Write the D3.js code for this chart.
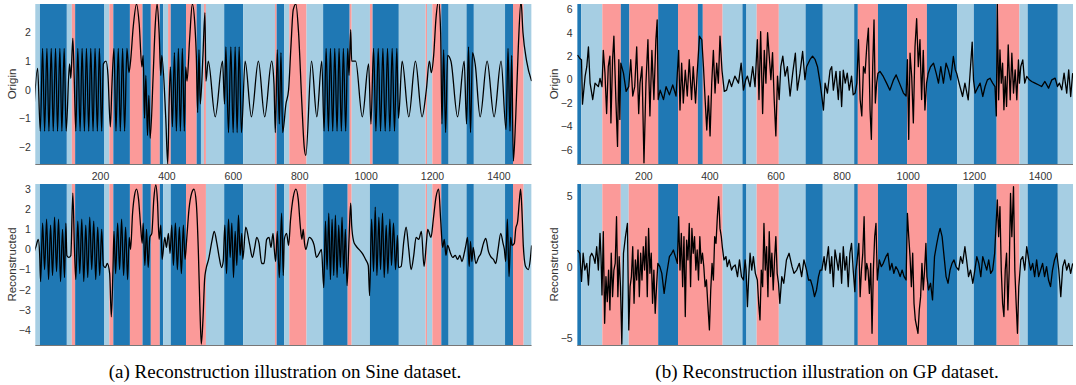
<!DOCTYPE html>
<html>
<head>
<meta charset="utf-8">
<script src="https://cdn.jsdelivr.net/npm/d3@7"></script>
<style>
  body { margin: 0; background: #fff; }
  svg { display: block; }
  .tick text { font-family: "Liberation Sans", Arial, sans-serif; font-size: 10.5px; fill: #333; }
</style>
</head>
<body>
<svg id="chart" width="1076" height="385"></svg>
<script>
// segment class colours (D = dark blue, L = light blue, P = pink)
const segColors = { D: "#1f78b4", L: "#a6cee3", P: "#fb9a99" };
const xTicks = [200, 400, 600, 800, 1000, 1200, 1400];

// ---- Sine dataset ----
const sineOriginSegs = [
  [0,19,"L"],[19,100,"D"],[100,115,"L"],[115,125,"P"],[125,212,"D"],[212,228,"L"],[228,240,"P"],
  [240,290,"D"],[290,328,"P"],[328,353,"D"],[353,380,"P"],[380,390,"D"],[390,405,"L"],[405,413,"P"],
  [413,459,"D"],[459,491,"P"],[491,504,"D"],[504,513,"L"],[513,519,"P"],[519,574,"L"],[574,631,"D"],
  [631,727,"L"],[727,732,"P"],[732,755,"D"],[755,770,"L"],[770,822,"P"],[822,872,"L"],[872,952,"D"],
  [952,958,"P"],[958,1013,"L"],[1013,1021,"P"],[1021,1100,"D"],[1100,1181,"L"],[1181,1185,"P"],
  [1185,1201,"L"],[1201,1228,"P"],[1228,1250,"D"],[1250,1304,"L"],[1304,1326,"D"],[1326,1420,"L"],
  [1420,1444,"D"],[1444,1476,"P"],[1476,1500,"L"]
];
const sineReconSegs = [
  [0,19,"L"],[19,100,"D"],[100,115,"L"],[115,125,"P"],[125,212,"D"],[212,228,"L"],[228,240,"P"],
  [240,290,"D"],[290,328,"P"],[328,353,"D"],[353,380,"P"],[380,390,"D"],[390,413,"L"],
  [413,459,"D"],[459,519,"P"],[519,574,"L"],[574,631,"D"],
  [631,727,"L"],[727,732,"P"],[732,755,"D"],[755,770,"L"],[770,822,"P"],[822,872,"L"],[872,946,"D"],
  [946,958,"P"],[958,1013,"L"],[1013,1100,"D"],[1100,1181,"L"],[1181,1185,"P"],
  [1185,1201,"L"],[1201,1228,"P"],[1228,1250,"D"],[1250,1304,"L"],[1304,1326,"D"],[1326,1420,"L"],
  [1420,1444,"D"],[1444,1476,"P"],[1476,1500,"L"]
];
const sineOrigin = [
  [0,-0.9],[12,0.75],
  [20,-1.45],[27,1.45],[33,-1.45],[40,1.45],[46,-1.45],[53,1.45],[59,-1.45],[66,1.45],[72,-1.45],[79,1.45],[85,-1.45],[92,1.45],[98,-1.45],
  [108,0.9],[112,0.4],[118,1.8],[122,0.5],
  [127,-1.45],[133,1.45],[140,-1.45],[146,1.45],[153,-1.45],[159,1.45],[166,-1.45],[172,1.45],[179,-1.45],[185,1.45],[192,-1.45],[198,1.45],[205,-1.45],[210,0.9],
  [218,1.0],[224,0.5],[231,-1.3],[236,0.2],
  [242,1.45],[248,-1.45],[255,1.45],[261,-1.45],[268,1.45],[274,-1.45],[281,1.45],[287,0.6],
  [292,1.0],[300,2.2],[310,3.0],[318,2.3],[326,0.8],
  [330,1.2],[334,-1.0],[338,0.5],[343,-1.6],[347,-0.2],[351,-1.7],
  [360,0.5],[366,2.2],[372,3.0],[378,2.0],[383,0.5],[386,1.2],
  [398,-1.0],[404,-2.6],[408,-0.5],
  [412,0.8],[418,-1.3],[424,1.3],[430,-1.45],[436,1.45],[442,-1.45],[448,1.45],[454,-1.45],[458,0.8],
  [462,0.3],[470,1.8],[478,3.0],[486,2.2],[490,1.2],
  [494,-0.8],[498,1.4],[502,-0.5],[510,1.2],[516,2.7],[519,0.3],
  [526,1.0],[547,-0.95],[569,1.0],
  [575,-0.5],[579,1.5],[587,-1.5],[594,1.5],[601,-1.5],[607,1.5],[613,-1.5],[619,1.5],[626,-1.5],
  [637,1.0],[656,-0.95],[677,1.0],[696,-0.95],[717,1.0],
  [724,0.2],[728,-1.5],[734,1.4],[740,-1.2],[745,1.3],[750,-1.5],
  [760,-0.5],[768,0.0],
  [775,1.5],[782,2.8],[790,3.0],[798,2.0],[808,-0.5],[815,-2.0],[820,-2.3],
  [837,1.0],[853,-0.95],[868,1.0],
  [875,-1.45],[881,1.45],[888,-1.45],[894,1.45],[901,-1.45],[907,1.45],[914,-1.45],[920,1.45],[927,-1.45],[933,1.45],[940,-1.45],[946,1.45],
  [950,0.5],[955,2.1],[958,1.0],
  [970,1.0],[990,-0.95],[1009,0.9],
  [1016,-1.2],[1024,1.45],[1031,-1.45],[1038,1.45],[1045,-1.45],[1052,1.45],[1059,-1.45],[1066,1.45],[1073,-1.45],[1080,1.45],[1087,-1.45],[1094,1.45],[1099,-1.0],
  [1110,1.0],[1130,-0.95],[1150,1.0],[1170,-0.95],
  [1183,0.0],[1192,1.0],[1198,0.6],
  [1205,1.2],[1212,2.5],[1220,3.1],[1226,2.0],
  [1230,-1.2],[1235,1.4],[1241,-1.5],[1247,1.2],
  [1257,1.0],[1277,-0.95],[1297,1.0],
  [1304,-1.2],[1310,1.5],[1316,-1.5],[1322,1.3],
  [1330,0.9],[1345,-0.95],[1366,1.0],[1387,-0.95],[1408,1.0],
  [1423,-1.4],[1429,1.45],[1435,-1.45],[1440,1.2],
  [1445,-2.5],[1452,-1.0],[1460,1.5],[1468,3.1],[1474,2.0],
  [1485,1.0],[1500,0.3]
];
const sineRecon = [
  [0,-0.2],[8,0.2],[14,0.5],[18,-0.2],
  [21,-1.6],[27,1.3],[33,-1.0],[39,1.5],[45,-1.5],[51,1.2],[57,-1.3],[63,1.6],[69,-1.1],[75,1.5],[81,-1.6],[87,1.0],[93,-1.4],[97,1.3],[100,-0.3],
  [106,-0.4],[112,-0.3],[118,2.8],[123,0.0],
  [127,-1.5],[133,1.4],[139,-1.2],[145,1.5],[151,-1.6],[157,1.2],[163,-1.4],[169,1.6],[175,-1.0],[181,1.4],[187,-1.5],[193,1.1],[199,-1.3],[205,1.0],[210,-0.8],
  [216,-0.9],[222,-0.7],[229,-1.2],[234,-3.35],[239,-1.0],
  [242,0.9],[247,-1.2],[253,1.3],[259,-1.0],[265,1.5],[271,-1.3],[277,1.1],[283,-1.5],[288,0.6],
  [292,0.0],[298,1.8],[304,2.7],[310,3.0],[316,2.5],[322,1.2],[327,0.3],
  [330,1.3],[335,-0.8],[340,1.0],[345,-0.9],[350,0.6],
  [356,0.8],[362,2.5],[368,3.2],[373,2.4],[378,0.5],
  [383,1.2],[387,-0.5],[395,0.6],[400,0.1],[406,0.8],[411,-0.2],
  [416,1.2],[421,-0.8],[427,1.3],[433,-1.0],[439,1.1],[445,-1.2],[451,1.2],[456,-0.5],
  [461,0.5],[468,2.0],[476,2.8],[483,3.0],[490,2.3],[496,0.0],[501,-3.0],[505,-4.7],[510,-3.5],[515,-1.5],[519,-1.0],
  [527,-0.5],[538,0.5],[544,0.9],[552,0.3],[559,-0.4],[566,-0.9],[571,-0.6],
  [576,1.2],[581,-1.2],[587,1.5],[592,-0.4],[597,1.3],[602,-1.4],[607,0.9],[612,-0.8],[617,1.7],[622,-0.3],[627,0.8],[630,-0.5],
  [639,1.1],[650,0.3],[659,-0.4],[666,0.1],[672,0.6],[679,0.3],[687,-0.7],[694,-0.7],[702,0.5],[709,0.6],[715,0.1],[721,0.8],[725,0.0],
  [729,-0.6],[734,0.9],[740,-1.4],[747,1.8],[752,-1.3],[755,0.5],
  [762,0.8],[768,0.2],
  [774,1.5],[782,2.6],[790,3.0],[797,2.5],[803,1.2],[808,0.5],[812,1.0],[816,0.3],[820,0.0],
  [830,0.6],[838,0.5],[845,0.2],[852,-0.4],[860,-0.2],[867,0.0],
  [874,-1.9],[879,1.4],[884,-1.0],[889,1.8],[894,-1.5],[899,1.5],[904,-1.3],[909,1.7],[914,-1.4],[919,1.2],[924,-0.9],[929,1.6],[934,-1.2],[939,1.0],[944,-1.8],
  [950,0.5],[955,2.3],[958,1.2],
  [964,0.4],[970,0.2],[980,0.0],[990,-0.2],[1000,-0.5],[1008,-0.8],[1012,-2.3],
  [1018,1.5],[1024,-1.1],[1029,2.1],[1034,-1.3],[1040,1.6],[1045,-1.0],[1051,1.8],[1056,-1.4],[1062,1.2],[1067,-1.2],[1073,1.5],[1078,-0.8],[1084,1.3],[1090,-1.0],[1096,0.7],[1099,-0.9],
  [1107,-0.85],[1115,0.4],[1122,1.1],[1130,0.0],[1137,-1.0],[1145,-0.3],[1152,0.6],[1160,0.5],[1168,0.9],[1176,-0.85],
  [1183,0.3],[1187,1.0],[1197,0.6],
  [1204,1.5],[1212,2.6],[1220,3.0],[1226,1.5],
  [1232,0.1],[1237,0.5],[1242,-0.3],[1247,0.2],
  [1256,-0.2],[1262,-0.4],[1270,-0.3],[1277,-0.5],[1284,-0.3],[1290,-0.6],[1297,-0.2],[1302,0.2],
  [1307,0.6],[1312,-0.85],[1316,0.4],[1320,-0.6],[1324,0.1],
  [1332,-0.7],[1340,-0.4],[1347,-0.2],[1355,0.3],[1362,0.55],[1370,-0.1],[1377,-0.36],[1385,-0.5],[1392,-0.7],[1399,0.0],[1407,0.8],[1414,0.3],[1418,0.0],
  [1422,-0.6],[1427,1.5],[1432,-1.35],[1437,0.6],[1441,0.2],
  [1448,0.3],[1452,1.0],[1458,1.4],[1463,2.4],[1467,3.0],[1472,1.5],[1475,0.2],
  [1482,-0.85],[1490,-1.0],[1496,-0.5],[1500,0.2]
];

// ---- GP dataset ----
const gpOriginSegs = [
  [0,12,"D"],[12,76,"L"],[76,132,"P"],[132,158,"D"],[158,245,"P"],[245,305,"D"],[305,365,"P"],
  [365,380,"D"],[380,440,"P"],[440,500,"L"],[500,512,"D"],[512,543,"L"],[543,610,"P"],[610,691,"L"],
  [691,743,"D"],[743,838,"L"],[838,849,"D"],[849,910,"P"],[910,998,"D"],[998,1058,"P"],[1058,1150,"D"],
  [1150,1200,"L"],[1200,1269,"D"],[1269,1338,"P"],[1338,1363,"L"],[1363,1454,"D"],[1454,1500,"L"]
];
const gpReconSegs = [
  [0,12,"D"],[12,76,"L"],[76,132,"P"],[132,156,"L"],[156,245,"P"],[245,305,"D"],[305,440,"P"],
  [440,500,"L"],[500,512,"D"],[512,543,"L"],[543,610,"P"],[610,691,"L"],
  [691,743,"D"],[743,838,"L"],[838,849,"D"],[849,910,"P"],[910,998,"D"],[998,1058,"P"],[1058,1150,"D"],
  [1150,1200,"L"],[1200,1269,"D"],[1269,1338,"P"],[1338,1363,"L"],[1363,1454,"D"],[1454,1500,"L"]
];
const gpOrigin = [
  [1,2.1],[8,1.8],[13,1.7],[16,-2.1],[24,0.3],[29,1.1],[34,2.8],[39,-0.3],[47,-1.7],[54,-0.3],[64,-0.6],[69,0.1],[75,-0.6],
  [79,2.5],[84,0.55],[89,-2.9],[94,1.1],[99,2.0],[102,-3.7],[107,1.7],[111,3.7],[117,-1.7],[122,-5.7],[126,1.7],[129,-3.4],[132,1.4],
  [140,0.55],[148,-1.0],[156,-0.6],
  [162,1.7],[168,-1.4],[174,-0.6],[180,2.8],[186,-2.9],[190,-0.3],[196,1.1],[202,-7.1],[208,-0.3],[214,3.4],[220,-3.1],[226,2.5],[232,-1.7],[238,3.4],[242,5.1],[245,-1.7],
  [251,-0.9],[261,-1.7],[269,-0.6],[279,-1.3],[289,-0.45],[299,-1.4],
  [307,2.5],[311,-2.6],[316,1.4],[321,-2.0],[327,0.8],[333,-1.4],[339,1.7],[346,-1.7],[351,1.1],[358,-2.0],[363,0.55],
  [370,3.7],[377,3.4],
  [382,1.1],[387,-1.7],[392,-4.3],[397,-1.4],[402,-4.8],[407,-0.3],[412,2.5],[417,-1.15],[422,1.4],[427,-0.3],[432,3.7],[438,0.8],
  [445,-1.0],[452,-0.9],[460,0.0],[467,-0.6],[477,0.3],[488,-0.3],[496,1.4],
  [503,-0.9],[510,0.0],
  [515,0.3],[523,-0.6],[531,1.1],[538,-0.6],
  [545,3.4],[550,-1.7],[555,4.1],[561,-2.9],[566,2.5],[571,-0.3],[576,4.0],[581,2.0],[586,0.0],[591,2.3],[596,-1.7],[601,-4.8],[606,0.3],[611,-1.7],
  [616,1.1],[622,2.0],[629,0.3],[636,1.1],[644,-1.4],[652,0.55],[660,2.25],[666,-0.9],[674,0.55],[682,2.4],[689,0.0],
  [694,1.1],[704,1.7],[712,2.0],[720,1.7],[727,1.1],[735,-0.3],[740,-1.4],
  [745,-2.6],[750,-0.3],[757,-1.15],[765,0.8],[770,1.1],[775,-0.9],[783,0.7],[790,-1.7],[795,0.7],[800,-2.3],[805,0.8],[811,-0.3],[817,0.55],[823,-0.9],[830,0.3],[835,-1.3],
  [841,-1.15],[846,-0.3],
  [851,3.4],[856,-1.7],[861,-3.1],[866,1.1],[871,0.55],[876,2.8],[881,4.4],[886,-2.6],[890,-5.1],[894,1.1],[898,5.1],[902,-2.0],[906,-0.3],[910,0.55],
  [916,0.7],[926,0.27],[936,-0.3],[946,-0.9],[957,-0.02],[965,0.4],[975,-0.3],[987,-1.15],[995,-1.4],
  [999,1.7],[1003,-5.1],[1007,2.25],[1012,0.27],[1017,-3.7],[1022,2.8],[1027,5.2],[1032,1.1],[1037,3.4],[1042,-1.7],[1047,2.5],[1052,-2.6],[1057,-0.3],
  [1062,0.55],[1069,1.1],[1078,1.4],[1086,0.55],[1093,-0.3],[1100,1.1],[1108,-0.3],[1116,1.4],[1123,0.83],[1130,-0.02],[1138,1.97],[1144,0.83],[1148,0.55],
  [1153,-0.02],[1158,-0.59],[1166,-1.44],[1173,-0.3],[1183,-1.72],[1188,0.27],[1195,3.2],[1199,-0.02],
  [1204,-1.15],[1211,-0.73],[1219,-0.3],[1227,-1.44],[1234,-0.59],[1241,-0.02],[1249,0.12],[1257,-0.3],[1264,-0.59],[1268,-3.1],
  [1271,6.5],[1275,-1.72],[1279,2.53],[1283,-0.3],[1287,1.4],[1291,-2.57],[1295,0.27],[1299,-2.29],[1304,2.96],[1310,-1.72],[1315,2.25],[1320,-1.15],[1325,0.83],[1330,-1.72],[1335,1.68],[1338,-0.3],
  [1342,1.12],[1348,1.68],[1354,-0.3],[1360,0.27],
  [1368,-0.02],[1375,-0.16],[1385,-0.3],[1395,-0.44],[1405,-0.59],[1415,-0.16],[1426,-0.73],[1436,-0.02],[1446,0.12],[1453,-0.59],
  [1459,-0.3],[1466,-0.87],[1473,0.55],[1481,-1.15],[1487,0.83],[1493,-1.44],[1499,0.55]
];
const gpRecon = [
  [1,1.2],[8,0.98],
  [13,-1.0],[18,0.98],[23,-0.2],[29,0.27],[34,-1.25],[39,0.74],[44,0.98],[49,0.74],[54,0.27],[59,1.44],[64,-0.2],[69,2.38],[72,0.74],[75,-1.95],
  [79,2.5],[83,-3.94],[87,-0.66],[91,-2.42],[95,-0.2],[99,-3.0],[103,0.98],[107,-2.07],[111,-0.2],[115,0.27],[119,3.55],[123,-2.07],[127,0.74],[131,-1.37],
  [135,-5.4],[140,0.98],[146,2.15],[152,3.08],
  [156,-4.41],[160,-1.37],[164,-0.66],[168,1.44],[172,-2.54],[176,0.51],[180,-0.9],[184,1.21],[188,-2.07],[192,0.98],[196,-0.9],[200,1.44],[204,-0.2],[208,2.15],[212,-2.07],[216,2.73],[220,-0.43],[224,0.98],[228,-2.54],[232,-0.2],[236,-3.24],[240,-1.37],[244,0.27],
  [250,0.04],[256,-0.43],[263,-1.84],[271,-0.43],[279,0.74],[286,0.98],[291,1.21],[297,0.74],[303,0.27],
  [307,3.55],[311,-0.2],[315,2.38],[319,-1.37],[323,2.15],[327,-3.47],[331,1.91],[335,0.51],[339,3.08],[343,-1.37],[347,2.73],[351,0.98],[355,2.15],[359,-0.2],[363,1.21],[367,-0.9],[371,2.15],[375,0.27],[379,0.98],[383,0.04],[387,-1.37],[391,-0.9],[395,-2.54],[400,-4.41],[404,-1.6],[408,0.27],[412,-0.9],[416,2.15],[420,1.68],[424,3.55],[428,4.96],[432,2.73],[436,2.15],[439,1.44],
  [444,0.51],[450,0.74],[454,0.04],[460,0.51],[467,-0.2],[472,0.04],[478,0.16],[485,-0.66],[491,0.51],[497,-0.66],
  [503,-0.9],[508,0.51],[511,-0.2],
  [515,-2.77],[519,-0.66],[523,0.98],[528,-0.2],[533,0.74],[539,-0.43],
  [545,-0.9],[549,-2.54],[553,-3.71],[557,-0.2],[561,-1.37],[565,3.08],[569,-0.2],[573,1.44],[577,-2.07],[581,2.5],[585,-0.66],[589,0.98],[593,-1.6],[597,0.51],[601,2.15],[605,-0.43],[609,-1.13],
  [613,-2.54],[619,-0.66],[625,-1.13],[633,0.51],[641,0.98],[650,0.04],[656,-0.43],[664,-0.2],[672,0.27],[679,-0.66],[686,0.51],
  [694,-0.2],[700,-0.9],[706,-0.9],[712,-1.37],[718,-2.07],[724,-1.6],[730,-0.66],[735,-0.2],[740,-0.2],
  [747,0.74],[751,-0.2],[755,0.51],[760,1.44],[765,-0.43],[770,0.74],[775,-1.37],[780,1.21],[790,-0.2],[795,0.98],[800,-1.13],[805,1.44],[810,-0.2],[815,0.74],[820,-1.37],[825,0.98],[830,1.68],[835,-0.2],[840,-1.72],
  [843,-0.2],[846,0.27],
  [852,1.68],[856,-2.07],[860,-0.2],[864,0.98],[868,3.55],[872,-0.9],[876,0.27],[880,-0.2],[884,-1.84],[888,0.27],[892,-4.65],[896,-0.2],[900,2.15],[904,3.08],[908,-0.9],
  [914,0.51],[920,0.04],[926,0.27],[934,0.74],[940,0.98],[946,-0.2],[952,0.27],[958,-0.43],[964,0.04],[970,-0.2],[977,-0.66],[983,-0.2],[989,-0.66],[995,-0.9],
  [999,3.79],[1003,2.15],[1007,0.74],[1011,-1.37],[1015,0.98],[1019,-2.54],[1023,-3.71],[1027,-4.18],[1031,-4.65],[1035,-2.99],[1039,-2.07],[1043,0.27],[1047,-1.6],[1051,-0.2],[1055,1.68],[1058,-0.66],
  [1063,-1.6],[1069,-1.13],[1075,-2.3],[1081,0.74],[1088,1.68],[1094,2.38],[1098,2.73],[1104,2.15],[1110,0.74],[1116,-0.66],[1122,-1.13],[1128,-0.2],[1134,0.27],[1140,0.51],[1146,0.04],
  [1154,-0.2],[1160,0.74],[1166,0.27],[1173,1.44],[1178,0.51],[1184,-0.66],[1190,-0.2],[1197,-1.13],
  [1203,-0.2],[1209,0.74],[1215,0.27],[1221,-0.66],[1227,0.74],[1233,0.27],[1239,-0.2],[1245,0.51],[1251,-0.43],[1257,-0.2],[1263,0.98],
  [1271,4.73],[1275,2.15],[1279,4.26],[1283,-0.2],[1287,-2.54],[1291,-3.47],[1295,-0.2],[1299,0.98],[1303,-3.0],[1307,-0.2],[1311,5.19],[1315,2.15],[1320,5.66],[1324,-0.2],[1328,-2.54],[1332,-4.65],[1336,-1.37],
  [1342,0.51],[1348,0.74],[1354,-0.2],[1360,1.44],
  [1366,0.51],[1372,-0.2],[1378,0.27],[1384,-0.66],[1390,0.51],[1396,-0.66],[1402,-0.2],[1408,0.27],[1414,-0.66],[1420,0.04],[1426,-0.9],[1432,-1.37],[1438,-0.2],[1444,0.51],[1451,0.98],
  [1457,-0.2],[1463,-2.07],[1469,0.04],[1475,0.51],[1481,-0.2],[1487,0.27],[1493,-0.43],[1499,0.27]
];

const panels = [
  { segs: sineOriginSegs, series: sineOrigin, title: "Origin", yDomain: [-2.6, 3], yTicks: [-2,-1,0,1,2],
    xDomain: [5, 1500], left: 35.3, right: 531.6, top: 4, bottom: 164, smooth: true, xLabels: true },
  { segs: sineReconSegs, series: sineRecon, title: "Reconstructed", yDomain: [-4.75, 3.25], yTicks: [-4,-3,-2,-1,0,1,2,3],
    xDomain: [5, 1500], left: 35.3, right: 531.6, top: 184, bottom: 345, smooth: true, xLabels: false },
  { segs: gpOriginSegs, series: gpOrigin, title: "Origin", yDomain: [-7.2, 6.45], yTicks: [-6,-4,-2,0,2,4,6],
    xDomain: [0, 1500], left: 577.2, right: 1073, top: 4, bottom: 164, smooth: false, xLabels: true },
  { segs: gpReconSegs, series: gpRecon, title: "Reconstructed", yDomain: [-5.47, 5.85], yTicks: [-5,0,5],
    xDomain: [0, 1500], left: 577.2, right: 1073, top: 184, bottom: 345, smooth: false, xLabels: false }
];

const svg = d3.select("#chart");

panels.forEach((p, i) => {
  const x = d3.scaleLinear().domain(p.xDomain).range([p.left, p.right]);
  const y = d3.scaleLinear().domain(p.yDomain).range([p.bottom, p.top]);

  svg.append("clipPath").attr("id", "clip" + i)
    .append("rect")
    .attr("x", p.left).attr("y", p.top)
    .attr("width", p.right - p.left).attr("height", p.bottom - p.top);

  const g = svg.append("g").attr("clip-path", "url(#clip" + i + ")");

  // background segments
  g.selectAll("rect.seg")
    .data(p.segs)
    .enter()
    .append("rect")
    .attr("class", "seg")
    .attr("x", d => x(d[0]))
    .attr("y", p.top)
    .attr("width", d => x(d[1]) - x(d[0]))
    .attr("height", p.bottom - p.top)
    .attr("fill", d => segColors[d[2]]);

  // series
  const line = d3.line()
    .x(d => x(d[0]))
    .y(d => y(d[1]))
    .curve(p.smooth ? d3.curveMonotoneX : d3.curveLinear);
  g.append("path")
    .datum(p.series)
    .attr("d", line)
    .attr("fill", "none")
    .attr("stroke", "#000")
    .attr("stroke-width", 1.3)
    .attr("stroke-linejoin", "round");

  // y axis
  const ya = svg.append("g")
    .attr("transform", "translate(" + p.left + ",0)")
    .call(d3.axisLeft(y).tickValues(p.yTicks).tickSize(0).tickPadding(4.5).tickFormat(d3.format("d")));
  ya.select(".domain").remove();

  // x axis line + labels
  const xa = svg.append("g")
    .attr("transform", "translate(0," + p.bottom + ")")
    .call(d3.axisBottom(x).tickValues(xTicks).tickSize(0).tickPadding(9).tickFormat(d3.format("d")));
  xa.select(".domain").remove();
  if (!p.xLabels) xa.selectAll("text").remove();
  svg.append("line")
    .attr("x1", p.left).attr("x2", p.right)
    .attr("y1", p.bottom + 0.5).attr("y2", p.bottom + 0.5)
    .attr("stroke", "#777").attr("stroke-width", 1);

  // y title
  svg.append("text")
    .attr("transform", "translate(" + (p.left - 23) + "," + ((p.top + p.bottom) / 2) + ") rotate(-90)")
    .attr("text-anchor", "middle")
    .attr("dominant-baseline", "central")
    .style("font-family", "'Liberation Sans', Arial, sans-serif")
    .style("font-size", "11.5px")
    .style("fill", "#333")
    .text(p.title);
});

// captions
const captions = [
  { text: "(a) Reconstruction illustration on Sine dataset.", cx: 285 },
  { text: "(b) Reconstruction illustration on GP dataset.", cx: 827 }
];
svg.selectAll("text.caption")
  .data(captions)
  .enter()
  .append("text")
  .attr("class", "caption")
  .attr("x", d => d.cx)
  .attr("y", 378)
  .attr("text-anchor", "middle")
  .style("font-family", "'Liberation Serif', 'Times New Roman', serif")
  .style("font-size", "19px")
  .style("fill", "#000")
  .text(d => d.text);
</script>
</body>
</html>
